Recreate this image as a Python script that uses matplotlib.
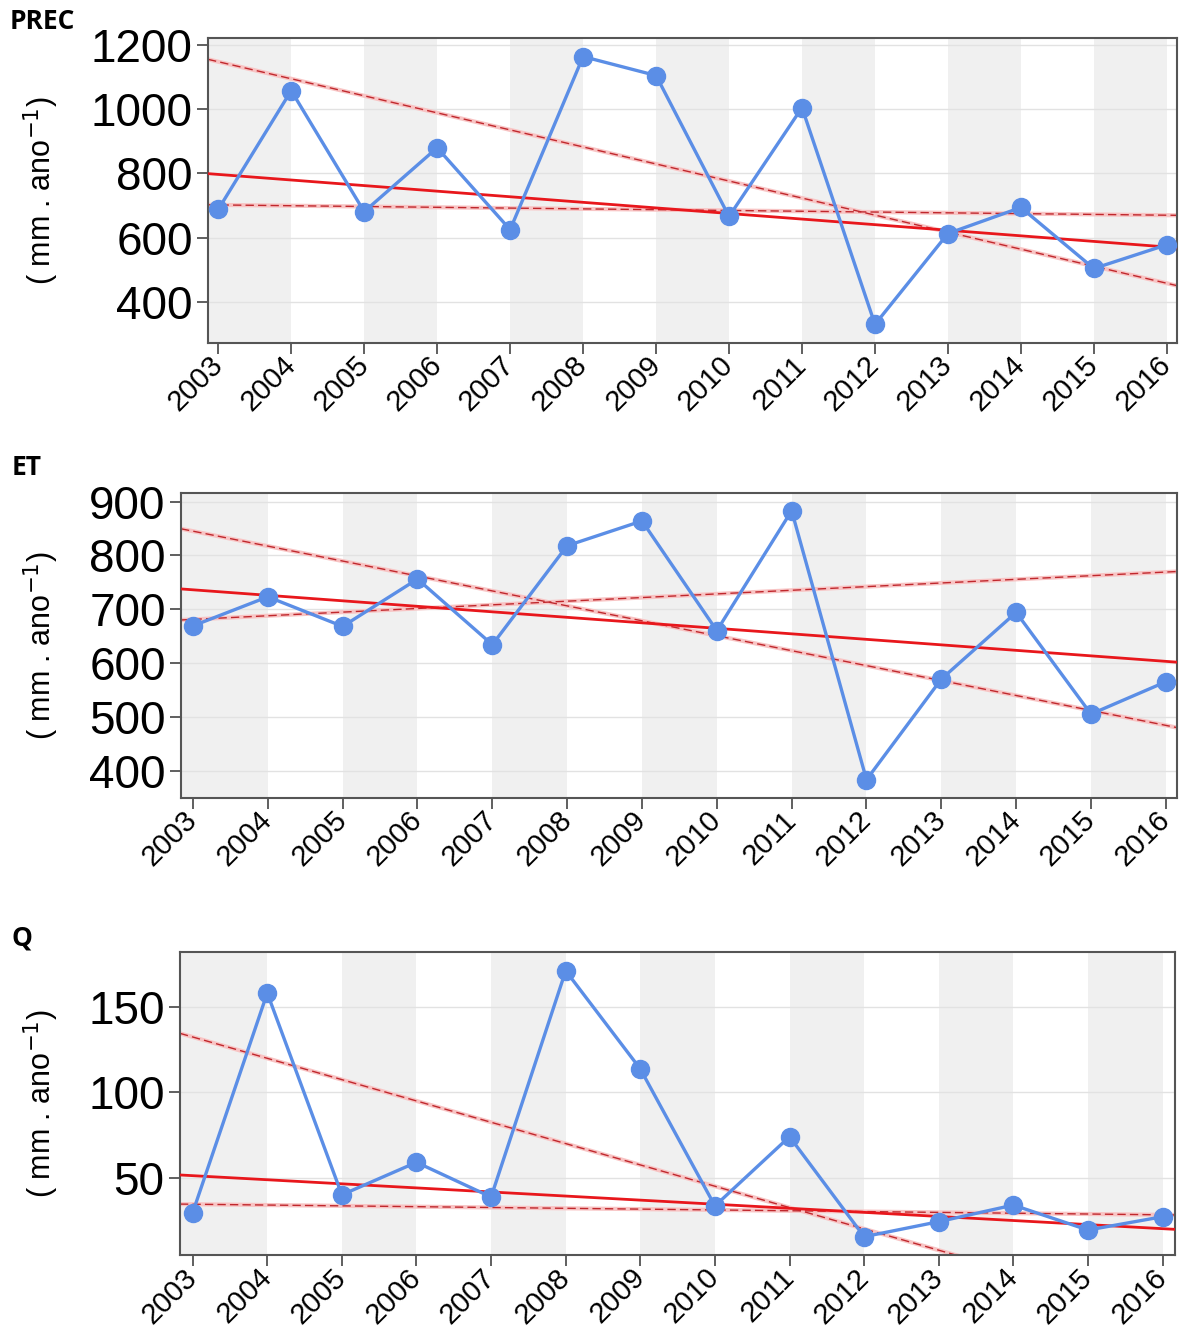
import numpy as np
from matplotlib import pyplot as plt

# anos
years = np.arange(2003, 2017)
year_labels = [str(y) for y in years]

# series anuais (mm . ano-1)
prec = [688, 1058, 681, 880, 625, 1164, 1105, 666, 1005, 330, 613, 694, 504, 578]
et = [669, 723, 668, 756, 634, 818, 864, 660, 883, 383, 570, 694, 505, 565]
q = [29.5, 158, 40, 59, 38.7, 171, 113.6, 33.5, 74, 15.5, 24.3, 34, 19.4, 27.2]

# tendencia: valores em 2003 e 2016 (linha central, limite superior, limite inferior)
prec_trend = [797, 571]
prec_upper = [1148, 458]
prec_lower = [702, 670]
et_trend = [736, 603]
et_upper = [845, 484]
et_lower = [681, 769]
q_trend = [51.2, 20.2]
q_upper = [132.3, -29.8]
q_lower = [34.5, 28.3]

# ticks do eixo y
prec_ticks = [400, 600, 800, 1000, 1200]
et_ticks = [400, 500, 600, 700, 800, 900]
q_ticks = [50, 100, 150]

plt.rcParams['font.family'] = ['Liberation Sans', 'DejaVu Sans']

BLUE = '#5b8ee6'
RED = '#e8171c'
DRED = '#c0282d'


def trend_line(ax, ends, xlim, **kw):
    """Desenha uma reta definida pelos valores em 2003 e 2016."""
    slope = (ends[1] - ends[0]) / (years[-1] - years[0])
    xs = np.array(xlim)
    ys = ends[0] + slope * (xs - years[0])
    ax.plot(xs, ys, **kw)


def panel(rect, title, title_xy, label_xy, values, trend, upper, lower,
          ticks, ylim, xlim):
    """Um painel com bandas cinzas, serie anual e retas de tendencia."""
    ax = fig.add_axes(rect)
    ax.set_xlim(xlim)
    ax.set_ylim(ylim)
    # bandas cinzas alternadas
    ax.axvspan(xlim[0], years[1], color='#f0f0f0', lw=0, zorder=0)
    for y0 in years[2::2]:
        ax.axvspan(y0, y0 + 1, color='#f0f0f0', lw=0, zorder=0)
    # grade horizontal
    for t in ticks:
        ax.axhline(t, color='#e2e2e2', lw=1.0, zorder=0.5)
    # retas de tendencia
    for ends in (upper, lower):
        trend_line(ax, ends, xlim, color='#f8c4c4', lw=3.0, zorder=1)
        trend_line(ax, ends, xlim, color=DRED, lw=1.0, ls=(0, (6, 3)), zorder=2)
    trend_line(ax, trend, xlim, color=RED, lw=2.0, zorder=3)
    # serie
    ax.plot(years, values, color=BLUE, lw=2.4, marker='o', ms=13,
            mec=BLUE, mfc=BLUE, zorder=4)
    # eixos
    ax.set_xticks(years)
    ax.set_xticklabels(year_labels, rotation=45, ha='right', va='center',
                       rotation_mode='anchor', fontsize=21)
    ax.set_yticks(ticks)
    ax.set_yticklabels([str(t) for t in ticks], fontsize=33)
    ax.tick_params(axis='both', direction='out', length=8, width=1.2,
                   color='#444444', pad=3)
    ax.tick_params(axis='x', pad=5)
    for s in ax.spines.values():
        s.set_color('#555555')
        s.set_linewidth(1.5)
    fig.text(title_xy[0], title_xy[1], title, fontsize=19, fontweight='bold',
             family='Open Sans', ha='left', va='top')
    fig.text(label_xy[0], label_xy[1], r'( mm . ano$^{-1}$)', fontsize=22,
             rotation=90, ha='center', va='center')
    return ax


fig = plt.figure(figsize=(11.8, 13.32), dpi=100)

panel([0.1763, 0.7425, 0.8212, 0.229], 'PREC', (0.008, 0.994),
      (0.035, 0.857), prec, prec_trend, prec_upper, prec_lower,
      prec_ticks, (272, 1222), (2002.86, 2016.14))
panel([0.1534, 0.4009, 0.8441, 0.229], 'ET', (0.010, 0.659),
      (0.035, 0.5155), et, et_trend, et_upper, et_lower,
      et_ticks, (349, 916), (2002.84, 2016.15))
panel([0.1525, 0.0578, 0.8432, 0.2275], 'Q', (0.010, 0.306),
      (0.035, 0.1715), q, q_trend, q_upper, q_lower,
      q_ticks, (4.8, 182), (2002.83, 2016.165))

plt.savefig('out.png', dpi=100)
